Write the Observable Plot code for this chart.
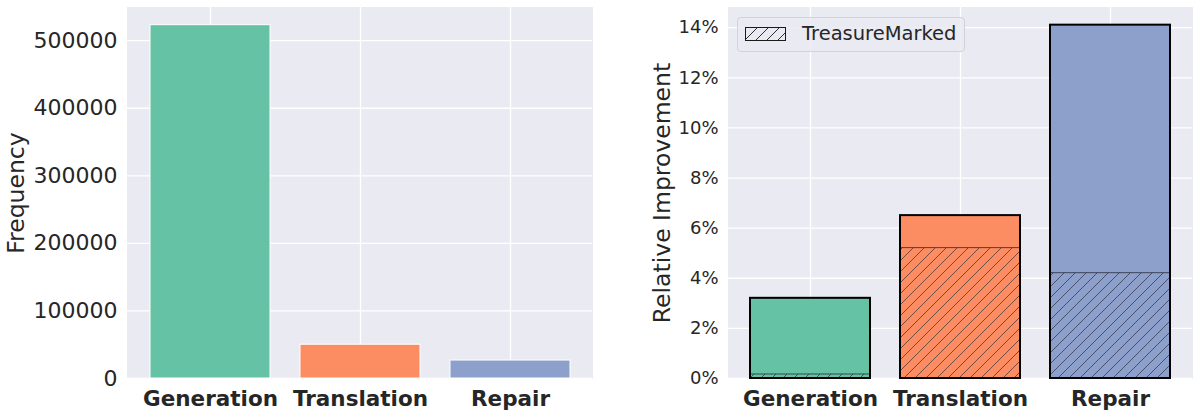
<!DOCTYPE html>
<html><head><meta charset="utf-8">
<script src="https://cdn.jsdelivr.net/npm/d3@7"></script>
<script src="https://cdn.jsdelivr.net/npm/@observablehq/plot@0.6"></script>
<style>
body{margin:0;background:#fff;font-family:"DejaVu Sans",sans-serif;}
#wrap{position:relative;width:1200px;height:417px;display:flex;}
#legend{position:absolute;left:737px;top:17px;width:228px;height:35px;box-sizing:border-box;border:1px solid #d2d2d8;border-radius:4px;background:rgba(234,234,242,0.85);}
#legend svg{position:absolute;left:7px;top:9px;}
#legend span{position:absolute;left:64px;top:3px;font-size:19.5px;line-height:26px;color:#262626;font-family:"DejaVu Sans",sans-serif;}
</style></head><body>
<svg width="0" height="0" style="position:absolute">
  <defs>
    <pattern id="hatch" patternUnits="userSpaceOnUse" width="11" height="11">
      <path d="M-1,1 l2,-2 M0,11 l11,-11 M10,12 l2,-2" stroke="#1a1a2a" stroke-opacity="0.75" stroke-width="0.8" fill="none"/>
    </pattern>
    <pattern id="hatchL" patternUnits="userSpaceOnUse" width="11" height="11" x="2">
      <path d="M-1,1 l2,-2 M0,11 l11,-11 M10,12 l2,-2" stroke="#1a1a1a" stroke-width="0.9" fill="none"/>
    </pattern>
  </defs>
</svg>
<div id="wrap"><div id="left"></div><div id="right"></div>
<div id="legend"><svg width="41" height="14"><rect x="0.5" y="0.5" width="40" height="13" fill="url(#hatchL)" stroke="#1a1a1a" stroke-width="1"/></svg><span>TreasureMarked</span></div>
</div>
<script>
const tasks = ["Generation", "Translation", "Repair"];
const frequency = [523000, 50000, 26600];
const improvement = [3.2, 6.5, 14.1];
const treasureMarked = [0.16, 5.2, 4.2];
const colors = ["#66c2a5", "#fc8d62", "#8da0cb"];
const freqTicks = [0, 100000, 200000, 300000, 400000, 500000];
const pctTicks = [0, 2, 4, 6, 8, 10, 12, 14];

const freqData = tasks.map((t, i) => ({task: t, value: frequency[i]}));
const impData = tasks.map((t, i) => ({task: t, value: improvement[i]}));
const tmData = tasks.map((t, i) => ({task: t, value: treasureMarked[i]}));

const common = {
  width: 600, height: 417, marginRight: 8, marginTop: 7, marginBottom: 39,
  style: {fontFamily: "DejaVu Sans", color: "#262626", background: "white", overflow: "visible"},
  color: {domain: tasks, range: colors}
};
const xScale = {domain: tasks, paddingInner: 0.2, paddingOuter: 0.14, label: null};
const gridStyle = {stroke: "white", strokeOpacity: 1, strokeWidth: 1.3};

const left = Plot.plot({
  ...common,
  marginLeft: 127,
  x: xScale,
  y: {domain: [0, 523000 * 1.05], label: null},
  marks: [
    Plot.frame({fill: "#EAEAF2", stroke: "#EAEAF2"}),
    Plot.gridY(freqTicks, gridStyle),
    Plot.gridX(gridStyle),
    Plot.barY(freqData, {x: "task", y: "value", fill: "task", stroke: "white", strokeWidth: 1}),
    Plot.axisY(freqTicks, {tickSize: 0, tickPadding: 10, fontSize: 22, tickFormat: d3.format("d"), label: null}),
    Plot.axisX({tickSize: 0, tickPadding: 12, fontSize: 21.5, fontWeight: "bold", label: null}),
    Plot.text(["Frequency"], {text: d => d, frameAnchor: "left", dx: -104, rotate: -90, lineAnchor: "bottom", textAnchor: "middle", fontSize: 23.5, fill: "#262626"})
  ]
});

const right = Plot.plot({
  ...common,
  marginLeft: 128,
  x: xScale,
  y: {domain: [0, 14.1 * 1.05], label: null},
  marks: [
    Plot.frame({fill: "#EAEAF2", stroke: "#EAEAF2"}),
    Plot.gridY(pctTicks, gridStyle),
    Plot.gridX(gridStyle),
    Plot.barY(impData, {x: "task", y: "value", fill: "task"}),
    Plot.barY(tmData, {x: "task", y: "value", fill: "url(#hatch)", stroke: "#2a2a3a", strokeWidth: 0.8}),
    Plot.barY(impData, {x: "task", y: "value", fill: "none", stroke: "black", strokeWidth: 2}),
    Plot.axisY(pctTicks, {tickSize: 0, tickPadding: 10, fontSize: 18, tickFormat: d => d + "%", label: null}),
    Plot.axisX({tickSize: 0, tickPadding: 12, fontSize: 21.5, fontWeight: "bold", label: null}),
    Plot.text(["Relative Improvement"], {text: d => d, frameAnchor: "left", dx: -59, rotate: -90, lineAnchor: "bottom", textAnchor: "middle", fontSize: 23.5, fill: "#262626"})
  ]
});

document.getElementById("left").appendChild(left);
document.getElementById("right").appendChild(right);
</script>
</body></html>
